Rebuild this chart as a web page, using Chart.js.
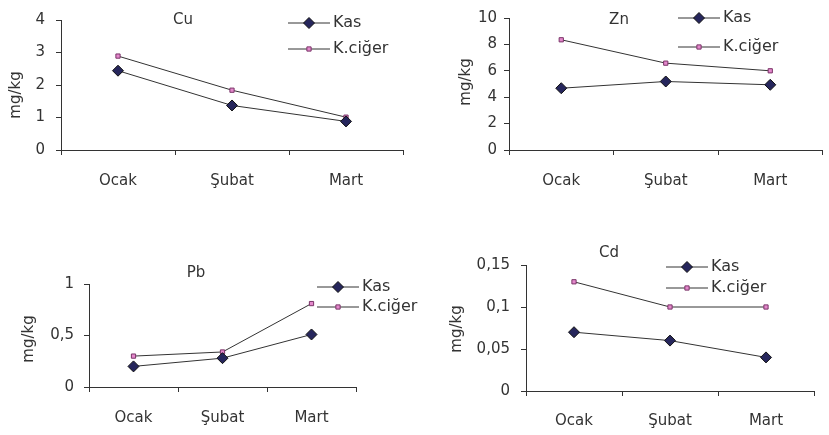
<!DOCTYPE html>
<html>
<head>
<meta charset="utf-8">
<script src="https://cdn.jsdelivr.net/npm/chart.js@4.4.0/dist/chart.umd.min.js"></script>
<style>
  html, body { margin: 0; padding: 0; background: #fff; }
  #wrap { position: relative; width: 829px; height: 435px; overflow: hidden; }
  .box { position: absolute; }
</style>
</head>
<body>
<div id="wrap">
  <div class="box" style="left:0;top:0;width:410px;height:200px"><canvas id="cu"></canvas></div>
  <div class="box" style="left:410px;top:0;width:419px;height:200px"><canvas id="zn"></canvas></div>
  <div class="box" style="left:410px;top:240px;width:419px;height:195px"><canvas id="cd"></canvas></div>
  <div class="box" style="left:0;top:240px;width:430px;height:195px"><canvas id="pb"></canvas></div>
</div>
<script>
const months = ["Ocak", "Şubat", "Mart"];
const seriesNames = ["Kas", "K.ciğer"];

const cuKas = [2.44, 1.37, 0.88];
const cuKaraciger = [2.89, 1.84, 1.01];
const cuTicks = [0, 1, 2, 3, 4];

const znKas = [4.68, 5.19, 4.94];
const znKaraciger = [8.35, 6.58, 6.0];
const znTicks = [0, 2, 4, 6, 8, 10];

const pbKas = [0.2, 0.28, 0.51];
const pbKaraciger = [0.3, 0.34, 0.81];
const pbTicks = [0, 0.5, 1];

const cdKas = [0.07, 0.06, 0.04];
const cdKaraciger = [0.13, 0.1, 0.1];
const cdTicks = [0, 0.05, 0.1, 0.15];

const FONT = '"DejaVu Sans", sans-serif';
const TEXT = '#333333';
const AXIS = '#333333';

const kasStyle = { pointStyle: 'rectRot', radius: 5.5, fill: '#26265c', border: '#111111' };
const kcStyle = { pointStyle: 'rect', radius: 3, fill: '#e488cc', border: '#7a3468' };

// title, y label and legend drawn on top of each chart
const decorations = {
    id: 'decorations',
    afterDraw(chart, args, o) {
        const ctx = chart.ctx;
        ctx.save();
        ctx.fillStyle = TEXT;
        ctx.textBaseline = 'middle';

        ctx.font = '15px ' + FONT;
        ctx.textAlign = 'center';
        ctx.fillText(o.title, o.titleX, o.titleY);

        ctx.save();
        ctx.translate(o.yLabelX, o.yLabelY);
        ctx.rotate(-Math.PI / 2);
        ctx.font = '15px ' + FONT;
        ctx.fillText('mg/kg', 0, 0);
        ctx.restore();

        ctx.font = '16px ' + FONT;
        ctx.textAlign = 'left';
        chart.data.datasets.forEach((ds, i) => {
            const y = o.legendY + i * o.legendGap;
            ctx.strokeStyle = ds.borderColor;
            ctx.lineWidth = 1;
            ctx.beginPath();
            ctx.moveTo(o.legendX, y);
            ctx.lineTo(o.legendX + 42, y);
            ctx.stroke();

            ctx.fillStyle = ds.pointBackgroundColor;
            ctx.strokeStyle = ds.pointBorderColor;
            Chart.helpers.drawPoint(ctx, {
                pointStyle: ds.pointStyle,
                radius: ds.pointRadius,
                rotation: 0,
                borderWidth: 1
            }, o.legendX + 21, y);

            ctx.fillStyle = TEXT;
            ctx.fillText(ds.label, o.legendX + 45, y);
        });
        ctx.restore();
    }
};

function makeDataset(label, data, st) {
    return {
        label: label,
        data: data,
        borderColor: '#333333',
        borderWidth: 1,
        pointStyle: st.pointStyle,
        pointRadius: st.radius,
        pointHoverRadius: st.radius,
        pointBackgroundColor: st.fill,
        pointBorderColor: st.border,
        pointBorderWidth: 1,
        tension: 0
    };
}

function makeChart(id, kas, karaciger, yTicks, box) {
    const ctx = document.getElementById(id).getContext('2d');
    return new Chart(ctx, {
        type: 'line',
        data: {
            labels: months,
            datasets: [
                makeDataset(seriesNames[0], kas, kasStyle),
                makeDataset(seriesNames[1], karaciger, kcStyle)
            ]
        },
        plugins: [decorations],
        options: {
            responsive: true,
            maintainAspectRatio: false,
            animation: false,
            events: [],
            layout: { padding: { top: box.top, right: box.right, left: 0, bottom: 0 } },
            plugins: {
                legend: { display: false },
                tooltip: { enabled: false },
                decorations: box.deco
            },
            scales: {
                x: {
                    offset: true,
                    grid: { offset: true, drawOnChartArea: false, drawTicks: true, tickLength: 5, color: AXIS },
                    border: { display: true, color: AXIS, width: 1 },
                    ticks: { color: TEXT, font: { family: FONT, size: 15 }, padding: box.xPad, maxRotation: 0 },
                    afterFit: s => { s.height = box.xHeight; }
                },
                y: {
                    min: yTicks[0],
                    max: yTicks[yTicks.length - 1],
                    grid: { drawOnChartArea: false, drawTicks: true, tickLength: 5, color: AXIS },
                    border: { display: true, color: AXIS, width: 1 },
                    ticks: {
                        color: TEXT,
                        font: { family: FONT, size: 15 },
                        padding: box.yPad,
                        callback: v => String(v).replace('.', ',')
                    },
                    afterBuildTicks: s => { s.ticks = yTicks.map(v => ({ value: v })); },
                    afterFit: s => { s.width = box.yWidth; }
                }
            }
        }
    });
}

makeChart('cu', cuKas, cuKaraciger, cuTicks, {
    top: 18, right: 7, yWidth: 61, xHeight: 50, xPad: 17, yPad: 11,
    deco: { title: 'Cu', titleX: 183, titleY: 20, yLabelX: 16, yLabelY: 95, legendX: 288, legendY: 23, legendGap: 26 }
});
makeChart('zn', znKas, znKaraciger, znTicks, {
    top: 18, right: 1, yWidth: 99, xHeight: 50, xPad: 17, yPad: 7,
    deco: { title: 'Zn', titleX: 209, titleY: 20, yLabelX: 56, yLabelY: 82, legendX: 268, legendY: 18, legendGap: 29 }
});
makeChart('pb', pbKas, pbKaraciger, pbTicks, {
    top: 44, right: 74, yWidth: 89, xHeight: 48, xPad: 17, yPad: 10,
    deco: { title: 'Pb', titleX: 196, titleY: 33, yLabelX: 29, yLabelY: 99, legendX: 317, legendY: 47, legendGap: 20 }
});
makeChart('cd', cdKas, cdKaraciger, cdTicks, {
    top: 25, right: 15, yWidth: 116, xHeight: 44, xPad: 16, yPad: 11,
    deco: { title: 'Cd', titleX: 199, titleY: 13, yLabelX: 47, yLabelY: 89, legendX: 256, legendY: 27, legendGap: 21 }
});
</script>
</body>
</html>
